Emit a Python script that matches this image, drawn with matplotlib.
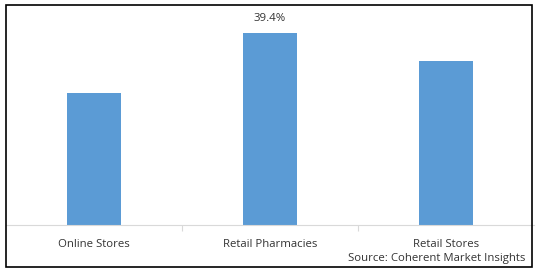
import matplotlib.pyplot as plt
from matplotlib.patches import Rectangle

categories = ['Online Stores', 'Retail Pharmacies', 'Retail Stores']
shares = [27.0, 39.4, 33.6]
labels = ['', '39.4%', '']
source = 'Source: Coherent Market Insights'

plt.rcParams['font.family'] = ['Open Sans', 'DejaVu Sans']

W, H = 538, 272
fig = plt.figure(figsize=(W / 100, H / 100), dpi=100)

# outer frame
fig.patches.append(Rectangle((6 / W, 5 / H), 526 / W, 262 / H, transform=fig.transFigure,
                             fill=False, edgecolor='black', linewidth=1.2))

ax = fig.add_axes([6 / W, 47 / H, 528 / W, 210 / H])
x = range(len(categories))
bars = ax.bar(x, shares, width=0.31, color='#5B9BD5')
ax.set_xlim(-0.5, len(categories) - 0.5)
ax.set_ylim(0, 43.1)

for b, lab in zip(bars, labels):
    if lab:
        ax.text(b.get_x() + b.get_width() / 2, b.get_height() + 1.8, lab,
                ha='center', va='bottom', fontsize=8.2, color='#333333')

for s in ['top', 'right', 'left']:
    ax.spines[s].set_visible(False)
ax.spines['bottom'].set_color('#D9D9D9')
ax.set_yticks([])
ax.set_xticks([0.5, 1.5])
ax.set_xticklabels([])
ax.tick_params(axis='x', length=4, color='#D9D9D9')
ax.set_xticks(list(x), minor=True)
ax.set_xticklabels(categories, minor=True, fontsize=8.2, color='#333333')
ax.tick_params(axis='x', which='minor', length=0, pad=10)

fig.text(525 / W, 1 - 258 / H, source, ha='right', va='center', fontsize=8.2, color='#333333')

fig.savefig('out.png', dpi=100)
